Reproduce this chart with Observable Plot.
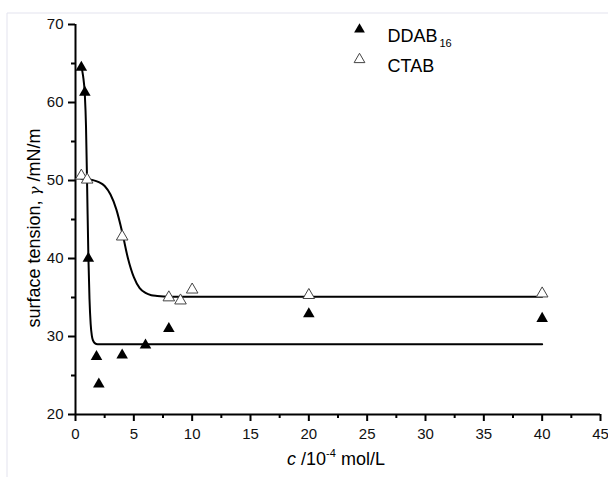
<!DOCTYPE html>
<html>
<head>
<meta charset="utf-8">
<script src="https://cdn.jsdelivr.net/npm/d3@7"></script>
<script src="https://cdn.jsdelivr.net/npm/@observablehq/plot@0.6"></script>
<style>
  body { margin: 0; background: #fff; }
  svg { font-family: "Liberation Sans", Arial, sans-serif; }
</style>
</head>
<body>
<div id="chart"></div>
<script>
// Measured points
const ddabC = [0.5, 0.8, 1.1, 1.8, 2, 4, 6, 8, 20, 40];
const ddabGamma = [64.5, 61.3, 40.0, 27.4, 23.9, 27.6, 28.9, 31.0, 32.9, 32.3];
const ctabC = [0.5, 1, 4, 8, 9, 10, 20, 40];
const ctabGamma = [50.6, 50.1, 42.8, 35.0, 34.6, 36.0, 35.3, 35.5];

// Fitted curves
const ddabFitC = [0.5, 0.65, 0.8, 0.9, 1.0, 1.1, 1.2, 1.3, 1.4, 1.5, 1.65, 1.9, 40];
const ddabFitGamma = [64.6, 63.4, 61.0, 57.0, 49.0, 40.5, 34.8, 31.6, 30.1, 29.5, 29.15, 29.0, 29.0];
const ctabFitC = [0.5, 1.0, 1.5, 2.0, 2.5, 3.0, 3.5, 4.0, 4.5, 5.0, 5.5, 6.0, 6.5, 7.0, 8.0, 40];
const ctabFitGamma = [50.2, 50.15, 50.05, 49.8, 49.3, 48.2, 46.3, 43.4, 40.0, 37.6, 36.2, 35.6, 35.3, 35.2, 35.1, 35.1];

// Ticks
const xTicks = [0, 5, 10, 15, 20, 25, 30, 35, 40, 45];
const xMinor = [2.5, 7.5, 12.5, 17.5, 22.5, 27.5, 32.5, 37.5, 42.5];
const yTicks = [20, 30, 40, 50, 60, 70];
const yMinor = [25, 35, 45, 55, 65];

// Legend
const legendNames = ["DDAB", "CTAB"];
const legendSub = ["16", ""];

const ddab = ddabC.map((c, i) => ({c, g: ddabGamma[i]}));
const ctab = ctabC.map((c, i) => ({c, g: ctabGamma[i]}));
const ddabFit = ddabFitC.map((c, i) => ({c, g: ddabFitGamma[i]}));
const ctabFit = ctabFitC.map((c, i) => ({c, g: ctabFitGamma[i]}));

const chart = Plot.plot({
  width: 608,
  height: 477,
  marginLeft: 75,
  marginRight: 8,
  marginTop: 24,
  marginBottom: 63,
  x: {domain: [0, 45]},
  y: {domain: [20, 70]},
  style: {fontFamily: "Liberation Sans, Arial, sans-serif", fontSize: "15px", color: "#000", background: "white"},
  marks: [
    Plot.axisX(xTicks, {tickSize: 7, tickPadding: 7, fontSize: 15, label: null, stroke: "black", strokeWidth: 2, fill: "#111"}),
    Plot.axisX(xMinor, {tickSize: 4, tickFormat: () => "", label: null, stroke: "black", strokeWidth: 2}),
    Plot.axisY(yTicks, {tickSize: 7, tickPadding: 5, fontSize: 15, label: null, stroke: "black", strokeWidth: 2, fill: "#111"}),
    Plot.axisY(yMinor, {tickSize: 4, tickFormat: () => "", label: null, stroke: "black", strokeWidth: 2}),
    Plot.ruleX([0], {stroke: "black", strokeWidth: 2}),
    Plot.ruleY([20], {stroke: "black", strokeWidth: 2}),
    Plot.line(ctabFit, {x: "c", y: "g", curve: "monotone-x", stroke: "black", strokeWidth: 2}),
    Plot.line(ddabFit, {x: "c", y: "g", curve: "monotone-x", stroke: "black", strokeWidth: 2}),
    Plot.dot(ddab, {x: "c", y: "g", symbol: "triangle", r: 4.3, fill: "black", stroke: "none"}),
    Plot.dot(ctab, {x: "c", y: "g", symbol: "triangle", r: 4.3, fill: "white", stroke: "#444", strokeWidth: 1}),
    // legend
    Plot.dot([legendNames[0]], {frameAnchor: "top-left", dx: 284, dy: 5, symbol: "triangle", r: 4.0, fill: "black", stroke: "none"}),
    Plot.dot([legendNames[1]], {frameAnchor: "top-left", dx: 284, dy: 35, symbol: "triangle", r: 4.0, fill: "white", stroke: "#444", strokeWidth: 1}),
    Plot.text([legendNames[0]], {frameAnchor: "top-left", dx: 312, dy: 5, text: d => d, textAnchor: "start", fontSize: 18, fill: "black"}),
    Plot.text([legendSub[0]], {frameAnchor: "top-left", dx: 364, dy: 15, text: d => d, textAnchor: "start", fontSize: 11, fill: "black"}),
    Plot.text([legendNames[1]], {frameAnchor: "top-left", dx: 312, dy: 35, text: d => d, textAnchor: "start", fontSize: 18, fill: "black"})
  ]
});

const svg = d3.select(chart);
// make tick marks solid black
svg.selectAll('g[aria-label$="tick"]').attr("stroke", "black").attr("stroke-width", 2).attr("stroke-opacity", 1);
svg.selectAll('g[aria-label$="tick"] path').attr("stroke", "black").attr("stroke-width", 2);

// faint image frame
svg.insert("line", ":first-child").attr("x1", 7).attr("y1", 13).attr("x2", 608).attr("y2", 13).attr("stroke", "#e3e3ee").attr("stroke-width", 1);
svg.insert("line", ":first-child").attr("x1", 7).attr("y1", 13).attr("x2", 7).attr("y2", 477).attr("stroke", "#e3e3ee").attr("stroke-width", 1);

// y axis label
const yl = svg.append("text")
  .attr("transform", "translate(40,228) rotate(-90)")
  .attr("text-anchor", "middle")
  .attr("font-size", 18)
  .attr("fill", "black");
yl.append("tspan").text("surface tension, ");
yl.append("tspan").attr("font-style", "italic").attr("font-family", "DejaVu Serif, serif").attr("font-size", 15).text("γ");
yl.append("tspan").text(" /mN/m");

// x axis label
const xl = svg.append("text")
  .attr("x", 336)
  .attr("y", 465)
  .attr("text-anchor", "middle")
  .attr("font-size", 18)
  .attr("fill", "black");
xl.append("tspan").attr("font-style", "italic").text("c");
xl.append("tspan").text(" /10");
xl.append("tspan").attr("font-size", 11).attr("dy", -8).text("-4");
xl.append("tspan").attr("dy", 8).text(" mol/L");

document.getElementById("chart").appendChild(chart);
</script>
</body>
</html>
